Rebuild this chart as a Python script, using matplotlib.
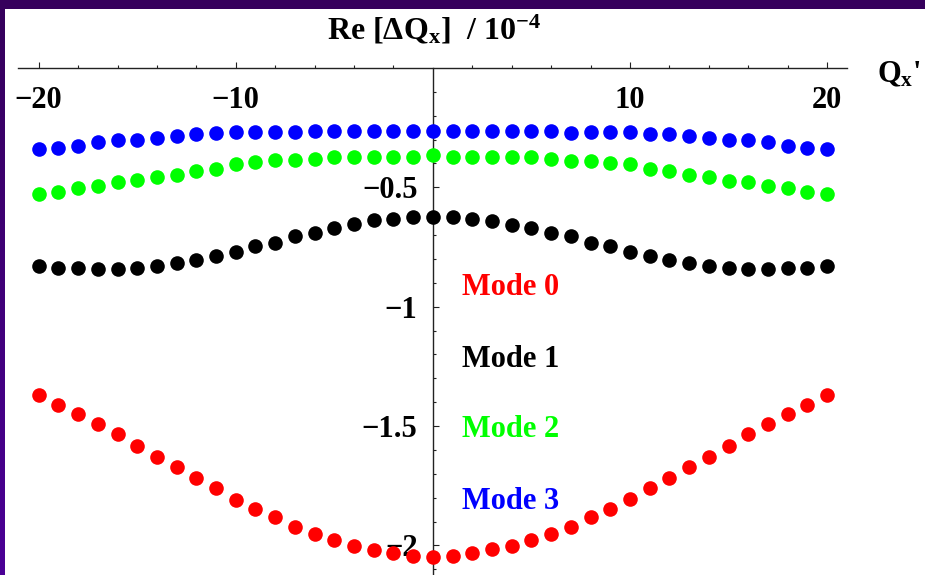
import matplotlib.pyplot as plt
import numpy as np
from matplotlib.patches import Rectangle
from matplotlib.colors import LinearSegmentedColormap

# chromaticity Qx' (x values) and Re[dQx] / 1e-4 for the four modes
qx = np.arange(-20, 21)

mode0 = [-1.370, -1.412, -1.451, -1.491, -1.533, -1.582, -1.628, -1.670, -1.719, -1.758,
         -1.810, -1.848, -1.879, -1.921, -1.952, -1.977, -2.002, -2.019, -2.033, -2.044,
         -2.049,
         -2.043, -2.033, -2.016, -2.002, -1.977, -1.952, -1.921, -1.879, -1.848, -1.807,
         -1.758, -1.719, -1.670, -1.628, -1.582, -1.533, -1.491, -1.451, -1.412, -1.370]

mode1 = [-0.828, -0.837, -0.837, -0.843, -0.843, -0.837, -0.828, -0.818, -0.804, -0.786,
         -0.771, -0.746, -0.732, -0.704, -0.690, -0.672, -0.655, -0.637, -0.633, -0.623,
         -0.623,
         -0.623, -0.633, -0.641, -0.658, -0.672, -0.690, -0.704, -0.732, -0.746, -0.771,
         -0.786, -0.804, -0.818, -0.828, -0.837, -0.843, -0.843, -0.837, -0.837, -0.828]

mode2 = [-0.529, -0.520, -0.504, -0.495, -0.479, -0.471, -0.455, -0.447, -0.430, -0.422,
         -0.404, -0.395, -0.386, -0.386, -0.381, -0.374, -0.374, -0.374, -0.374, -0.374,
         -0.365,
         -0.374, -0.374, -0.374, -0.374, -0.374, -0.383, -0.388, -0.390, -0.400, -0.404,
         -0.422, -0.430, -0.449, -0.455, -0.472, -0.479, -0.495, -0.504, -0.518, -0.528]

mode3 = [-0.341, -0.334, -0.326, -0.309, -0.302, -0.302, -0.292, -0.284, -0.277, -0.274,
         -0.268, -0.268, -0.268, -0.268, -0.263, -0.263, -0.263, -0.263, -0.263, -0.263,
         -0.263,
         -0.263, -0.263, -0.263, -0.263, -0.263, -0.263, -0.271, -0.268, -0.268, -0.268,
         -0.277, -0.278, -0.285, -0.295, -0.302, -0.302, -0.309, -0.326, -0.334, -0.341]

mode_names = ["Mode 0", "Mode 1", "Mode 2", "Mode 3"]
mode_colors = ["#ff0000", "#000000", "#00ff00", "#0000ff"]

xticks = [-20, -10, 10, 20]
xticklabels = ["\u221220", "\u221210", "10", "20"]
yticks = [-0.5, -1.0, -1.5, -2.0]
yticklabels = ["\u22120.5", "\u22121", "\u22121.5", "\u22122"]

plt.rcParams['font.family'] = ['Liberation Serif', 'DejaVu Serif']
plt.rcParams['font.weight'] = 'bold'
plt.rcParams['mathtext.fontset'] = 'custom'
plt.rcParams['mathtext.rm'] = 'Liberation Serif:bold'
plt.rcParams['mathtext.it'] = 'Liberation Serif:bold'
plt.rcParams['mathtext.bf'] = 'Liberation Serif:bold'

W, H = 925, 575
fig = plt.figure(figsize=(W / 100, H / 100), dpi=100)
fig.patch.set_facecolor('white')

# purple slide frame: top bar and a left strip with a gradient
fig.patches.append(Rectangle((0, 1 - 9 / H), 1, 9 / H, transform=fig.transFigure,
                             facecolor='#36005c', edgecolor='none', zorder=0))
side = fig.add_axes([0, 0, 5 / W, 1 - 9 / H])
grad = np.linspace(0, 1, 100).reshape(-1, 1)
side.imshow(grad, aspect='auto', origin='lower',
            cmap=LinearSegmentedColormap.from_list('p', ['#4b0096', '#36005c']))
side.axis('off')

ax = fig.add_axes([5 / W, 0, 920 / W, 1 - 9 / H])
ax.set_xlim(-21.71, 24.97)
ax.set_ylim(-2.124, 0.247)

for vals, col in zip([mode0, mode1, mode2, mode3], mode_colors):
    ax.plot(qx, vals, 'o', color=col, ms=10.5, mec='none', zorder=3, clip_on=False)

# Mathematica-style axes crossing at the origin
for s in ['top', 'right']:
    ax.spines[s].set_visible(False)
ax.spines['left'].set_position(('data', 0))
ax.spines['bottom'].set_position(('data', 0))
ax.spines['bottom'].set_bounds(-21.05, 21.0)
ax.spines['left'].set_bounds(-2.2, 0)
for s in ['left', 'bottom']:
    ax.spines[s].set_color('#222222')
    ax.spines[s].set_linewidth(1.0)

ax.set_xticks(xticks)
ax.set_xticklabels(xticklabels)
ax.set_xticks([v for v in range(-20, 21, 2) if v not in (-20, -10, 0, 10, 20)], minor=True)
ax.set_yticks(yticks)
ax.set_yticklabels(yticklabels)
ax.set_yticks([-v / 10 for v in range(1, 22) if v % 5 != 0], minor=True)

ax.tick_params(axis='x', which='both', direction='in', pad=13, labelsize=22, colors='#222222',
               labelcolor='black')
ax.tick_params(axis='y', which='both', direction='in', pad=11, labelsize=22, colors='#222222',
               labelcolor='black')
ax.tick_params(which='major', length=4.5, width=0.8)
ax.tick_params(which='minor', length=2.5, width=0.8)

baselines = [-0.951, -1.252, -1.547, -1.848]
for name, col, yb in zip(mode_names, mode_colors, baselines):
    ax.text(1.46, yb, name, color=col, fontsize=22, fontweight='bold', va='baseline', ha='left')

fig.text(327 / W, 1 - 39 / H, r"Re [$\Delta\mathrm{Q_x}$]  / 10$^{-4}$", fontsize=23,
         fontweight='bold', va='baseline', ha='left')
fig.text(877 / W, 1 - 82 / H, r"$\mathrm{Q_x}$'", fontsize=22, fontweight='bold',
         va='baseline', ha='left')

fig.savefig('out.png', dpi=100)
